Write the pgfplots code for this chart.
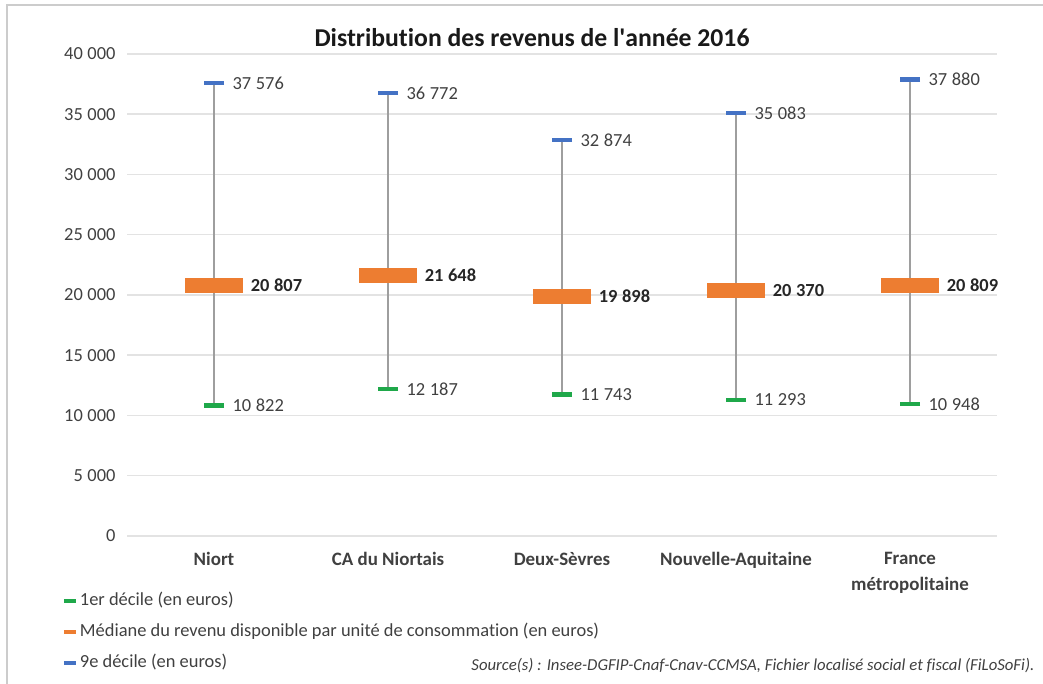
\documentclass[border=0pt]{standalone}
\usepackage{pgfplots}
\pgfplotsset{compat=1.18}
\usepackage{pgfplotstable}
\usepackage{fontspec}
\setmainfont{Carlito}[Ligatures={NoCommon}]

\definecolor{decgreen}{HTML}{1FA84A}
\definecolor{medorange}{HTML}{ED7D31}
\definecolor{decblue}{HTML}{4472C4}
\definecolor{rangegray}{HTML}{9E9E9E}
\definecolor{gridgray}{HTML}{E3E3E3}
\definecolor{txtgray}{HTML}{404040}

% 1er décile, médiane, 9e décile (euros par UC)
\pgfplotstableread{
x d1 med d9
0 10822 20807 37576
1 12187 21648 36772
2 11743 19898 32874
3 11293 20370 35083
4 10948 20809 37880
}\revenus

\begin{document}
\begin{tikzpicture}
\useasboundingbox (0,0) rectangle (1043bp,684bp);
\draw[gray!40, line width=2.5bp] (7bp,0bp) -- (7bp,679bp) -- (1043bp,679bp);
\node[font=\fontsize{25.8}{30}\selectfont\bfseries, text=black!90] at (532bp,646bp)
  {Distribution des revenus de l\textquotesingle année 2016};
\begin{axis}[
  at={(127bp,148bp)}, anchor=south west,
  scale only axis, width=870bp, height=482bp,
  xmin=-0.5, xmax=4.5, ymin=0, ymax=40000,
  xtick={0,1,2,3,4},
  xticklabels={Niort, CA du Niortais, Deux-Sèvres, Nouvelle-Aquitaine, {France\\métropolitaine}},
  ytick={0,5000,...,40000},
  scaled y ticks=false,
  axis line style={draw=none},
  major tick length=0pt,
  ymajorgrids, grid style={gridgray, line width=1.5bp},
  /pgf/number format/.cd, 1000 sep={\hspace{0.25em}}, assume math mode=true, fixed, precision=0,
  /pgfplots/.cd,
  yticklabel style={font=\fontsize{18.5}{22}\selectfont, text=txtgray, xshift=-8bp},
  xticklabel style={font=\fontsize{19}{26}\selectfont\bfseries, text=txtgray, align=center, yshift=-13bp},
  legend style={at={(-0.075,-0.118)}, anchor=north west, draw=none, fill=none,
    inner sep=0pt, row sep=15bp,
    font=\fontsize{18.5}{22}\selectfont, text=txtgray,
    nodes={inner xsep=2bp, inner ysep=0pt, text height=12bp, text depth=4bp}},
  legend cell align=left,
]
% Étendue entre le 1er et le 9e décile
\addplot[only marks, mark=none, forget plot,
  error bars/.cd, y dir=both, y explicit, error mark=none,
  error bar style={rangegray, line width=1.6bp}]
  table[x=x, y=med,
    y error plus expr=\thisrow{d9}-\thisrow{med},
    y error minus expr=\thisrow{med}-\thisrow{d1}] {\revenus};

\addplot[only marks, mark=-, mark size=10bp, mark options={decgreen, line width=4.5bp},
  nodes near coords, nodes near coords align={horizontal},
  every node near coord/.append style={anchor=west, xshift=13bp,
    font=\fontsize{18.5}{22}\selectfont, text=txtgray},
  legend image code/.code={\draw[decgreen, line width=4bp] (0bp,0bp) -- (12bp,0bp);}]
  table[x=x, y=d1] {\revenus};
\addlegendentry{1er décile (en euros)}

\addplot[only marks, mark=-, mark size=29bp, mark options={medorange, line width=15bp},
  nodes near coords, nodes near coords align={horizontal},
  every node near coord/.append style={anchor=west, xshift=26bp,
    font=\fontsize{18.5}{22}\selectfont\bfseries, text=black!85},
  legend image code/.code={\draw[medorange, line width=4bp] (0bp,0bp) -- (12bp,0bp);}]
  table[x=x, y=med] {\revenus};
\addlegendentry{Médiane du revenu disponible par unité de consommation (en euros)}

\addplot[only marks, mark=-, mark size=10bp, mark options={decblue, line width=4.5bp},
  nodes near coords, nodes near coords align={horizontal},
  every node near coord/.append style={anchor=west, xshift=13bp,
    font=\fontsize{18.5}{22}\selectfont, text=txtgray},
  legend image code/.code={\draw[decblue, line width=4bp] (0bp,0bp) -- (12bp,0bp);}]
  table[x=x, y=d9] {\revenus};
\addlegendentry{9e décile (en euros)}
\end{axis}
\node[anchor=east, font=\fontsize{16.8}{20}\selectfont\itshape, text=txtgray] at (1038bp,18bp)
  {Source(s) : Insee-DGFIP-Cnaf-Cnav-CCMSA, Fichier localisé social et fiscal (FiLoSoFi).};
\end{tikzpicture}
\end{document}
